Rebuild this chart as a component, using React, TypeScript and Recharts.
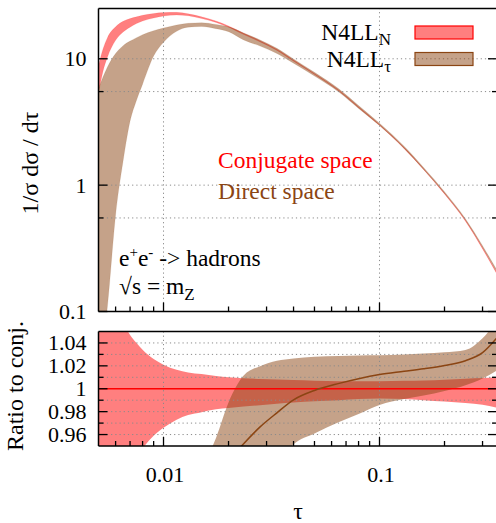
import React from 'react';
import { ComposedChart, Area, Line, XAxis, YAxis, ReferenceLine } from 'recharts';

const FONT = '"Liberation Serif", "DejaVu Serif", serif';
const RED = '#ff0000';
const BROWN = '#8b4513';

// tau grid shared by all curves
const tau = [
  0.005, 0.00525, 0.0055, 0.006, 0.0065, 0.007, 0.0075, 0.008, 0.009, 0.01,
  0.0115, 0.013, 0.015, 0.0175, 0.02, 0.0235, 0.028, 0.0335, 0.04, 0.05,
  0.065, 0.08, 0.1, 0.13, 0.16, 0.2, 0.25, 0.3, 0.35,
];

// upper panel: 1/sigma dsigma/dtau bands
const conjLo = [
  5.3, 8.0, 10.3, 14.0, 16.3, 17.8, 19.0, 19.9, 21.0, 21.8,
  22.2, 21.9, 20.8, 19.4, 17.8, 15.55, 13.6, 11.65, 9.58, 7.52,
  5.54, 4.1, 2.975, 1.95, 1.327, 0.85, 0.518, 0.313, 0.197,
];
const conjHi = [
  8.8, 12.0, 14.7, 17.9, 19.8, 20.8, 21.5, 22.1, 22.8, 23.2,
  23.3, 22.7, 21.5, 19.9, 18.2, 15.95, 13.92, 11.9, 9.77, 7.65,
  5.64, 4.17, 3.02, 1.985, 1.35, 0.867, 0.53, 0.321, 0.202,
];
const directLo = [
  0.03, 0.055, 0.11, 0.58, 1.55, 3.2, 4.7, 6.3, 10.5, 13.5,
  16.5, 17.8, 18.0, 17.3, 16.4, 14.1, 12.6, 11.0, 9.23, 7.3,
  5.44, 4.05, 2.96, 1.95, 1.33, 0.858, 0.527, 0.321, 0.203,
];
const directHi = [
  5.8, 7.2, 8.6, 11.0, 12.7, 13.8, 14.7, 15.5, 16.7, 17.5,
  18.5, 19.1, 19.3, 18.7, 17.9, 16.0, 14.1, 12.1, 9.96, 7.81,
  5.76, 4.26, 3.09, 2.03, 1.38, 0.887, 0.543, 0.332, 0.212,
];

// lower panel: ratio to conjugate-space central value
const ratioConjLo = [
  0.9, 0.905, 0.91, 0.92, 0.93, 0.935, 0.941, 0.948, 0.959, 0.966,
  0.973, 0.977, 0.9795, 0.982, 0.9832, 0.9845, 0.9856, 0.987, 0.988, 0.989,
  0.99, 0.991, 0.9915, 0.991, 0.99, 0.9888, 0.9875, 0.986, 0.9835,
];
const ratioConjHi = [
  1.1, 1.095, 1.088, 1.073, 1.058, 1.047, 1.04, 1.034, 1.026, 1.021,
  1.0165, 1.0142, 1.0128, 1.0112, 1.01, 1.0092, 1.0085, 1.008, 1.0076, 1.007,
  1.0066, 1.0065, 1.0066, 1.0069, 1.0073, 1.0079, 1.0088, 1.0094, 1.0101,
];
const ratioDirectLo = [
  null, null, null, null, null, null, null, null, null, null,
  null, null, 0.8, 0.84, 0.87, 0.895, 0.915, 0.933, 0.9515, 0.961,
  0.971, 0.978, 0.9858, 0.991, 0.994, 0.998, 1.003, 1.009, 1.016,
];
const ratioDirectHi = [
  null, null, null, null, null, null, null, null, null, null,
  null, null, 0.93, 0.957, 0.988, 1.0115, 1.0197, 1.0245, 1.0265, 1.028,
  1.0285, 1.029, 1.0292, 1.03, 1.0307, 1.0318, 1.0338, 1.044, 1.06,
];
const ratioDirectMid = [
  null, null, null, null, null, null, null, null, null, null,
  null, null, null, null, 0.937, 0.952, 0.9667, 0.979, 0.9903, 0.9985,
  1.0047, 1.0088, 1.0124, 1.0152, 1.0174, 1.0203, 1.0245, 1.0315, 1.0445,
];

const xTicks = [0.006, 0.007, 0.008, 0.009, 0.01, 0.02, 0.03, 0.04, 0.05, 0.06, 0.07, 0.08, 0.09, 0.1, 0.2, 0.3];
const xLabels = [0.01, 0.1];
const topYTicks = [0.1, 0.55, 1, 5.5, 10];
const topYLabels = [0.1, 1, 10];
const ratioTicks = [0.96, 0.97, 0.98, 0.99, 1, 1.01, 1.02, 1.03, 1.04];
const ratioLabels = [0.96, 0.98, 1, 1.02, 1.04];

const topData = tau.map((t, i) => ({
  tau: t,
  conj: [conjLo[i], conjHi[i]],
  direct: [directLo[i], directHi[i]],
}));

const ratioData = tau.map((t, i) => ({
  tau: t,
  conj: [ratioConjLo[i], ratioConjHi[i]],
  direct: ratioDirectLo[i] == null ? null : [ratioDirectLo[i], ratioDirectHi[i]],
  directMid: ratioDirectMid[i],
}));

const has = (list: number[], v: number) => list.some(l => Math.abs(l - v) < 1e-9);
const txt = (size: number) => ({ fontFamily: FONT, fontSize: size });

function YTick(props: any) {
  const { x, y, payload, labels, side } = props;
  const major = has(labels, payload.value);
  const len = major ? 9 : 5;
  const dir = side === 'left' ? 1 : -1;
  return (
    <g>
      <line x1={x} x2={x + dir * len} y1={y} y2={y} stroke="#000" strokeWidth={1.3} />
      {side === 'left' && major && (
        <text x={x - 12} y={y} dy={7.5} textAnchor="end" style={txt(22)} fill="#000">
          {String(payload.value)}
        </text>
      )}
    </g>
  );
}

function XTick(props: any) {
  const { x, y, payload, side, showLabel } = props;
  const major = has(xLabels, payload.value);
  const len = major ? 9 : 5;
  const dir = side === 'bottom' ? -1 : 1;
  return (
    <g>
      <line x1={x} x2={x} y1={y} y2={y + dir * len} stroke="#000" strokeWidth={1.3} />
      {showLabel && major && (
        <text x={x + 1.5} y={y + 36} textAnchor="middle" style={txt(22)} fill="#000">
          {String(payload.value)}
        </text>
      )}
    </g>
  );
}

const gridStyle = { stroke: '#8a8a8a', strokeWidth: 1, strokeDasharray: '1.2 3' };
const frame = { stroke: '#000', strokeWidth: 1.5 };

function Axes({ yTicks, yLabels, yDomain, yScale, showX }: any) {
  return [
    <XAxis key="xb" xAxisId="b" dataKey="tau" type="number" scale="log" domain={[0.005, 0.35]}
      allowDataOverflow ticks={xTicks} interval={0} height={1} tickSize={0} tickMargin={0}
      axisLine={frame} tickLine={false}
      tick={(p: any) => <XTick {...p} side="bottom" showLabel={showX} />} />,
    <XAxis key="xt" xAxisId="t" orientation="top" type="number" scale="log" domain={[0.005, 0.35]}
      allowDataOverflow ticks={xTicks} interval={0} height={1} tickSize={0} tickMargin={0}
      axisLine={frame} tickLine={false}
      tick={(p: any) => <XTick {...p} side="top" showLabel={false} />} />,
    <YAxis key="yl" yAxisId="l" type="number" scale={yScale} domain={yDomain} allowDataOverflow
      ticks={yTicks} interval={0} width={90} tickSize={0} tickMargin={0}
      axisLine={frame} tickLine={false}
      tick={(p: any) => <YTick {...p} side="left" labels={yLabels} />} />,
    <YAxis key="yr" yAxisId="r" orientation="right" type="number" scale={yScale} domain={yDomain}
      allowDataOverflow ticks={yTicks} interval={0} width={1} tickSize={0} tickMargin={0}
      axisLine={frame} tickLine={false}
      tick={(p: any) => <YTick {...p} side="right" labels={yLabels} />} />,
  ];
}

export default function App() {
  return (
    <div style={{ position: 'fixed', left: 0, top: 0, width: 496, height: 523, background: '#fff', overflow: 'hidden', fontFamily: FONT }}>
      <div style={{ position: 'absolute', left: 0, top: 0 }}>
        <ComposedChart width={500} height={332} data={topData}
          margin={{ top: 7.5, right: 2, bottom: 19.5, left: 8.5 }}>
          {Axes({ yTicks: topYTicks, yLabels: topYLabels, yDomain: [0.1, 25], yScale: 'log', showX: false })}
          {[0.55, 1, 5.5, 10].map(v => (
            <ReferenceLine key={'h' + v} xAxisId="b" yAxisId="l" y={v} {...gridStyle} />
          ))}
          {xLabels.map(v => (
            <ReferenceLine key={'v' + v} xAxisId="b" yAxisId="l" x={v} {...gridStyle} />
          ))}
          <Area xAxisId="b" yAxisId="l" type="monotone" dataKey="conj" fill={RED} fillOpacity={0.5}
            stroke={RED} strokeOpacity={0.2} strokeWidth={0.5} isAnimationActive={false} />
          <Area xAxisId="b" yAxisId="l" type="monotone" dataKey="direct" fill={BROWN} fillOpacity={0.5}
            stroke={BROWN} strokeOpacity={0.2} strokeWidth={0.5} isAnimationActive={false} />
        </ComposedChart>
      </div>
      <div style={{ position: 'absolute', left: 0, top: 320 }}>
        <ComposedChart width={500} height={203} data={ratioData}
          margin={{ top: 10.5, right: 2, bottom: 76, left: 8.5 }}>
          {Axes({ yTicks: ratioTicks, yLabels: ratioLabels, yDomain: [0.95, 1.05], yScale: 'linear', showX: true })}
          {ratioTicks.filter(v => v !== 1).map(v => (
            <ReferenceLine key={'h' + v} xAxisId="b" yAxisId="l" y={v} {...gridStyle} />
          ))}
          {xLabels.map(v => (
            <ReferenceLine key={'v' + v} xAxisId="b" yAxisId="l" x={v} {...gridStyle} />
          ))}
          <Area xAxisId="b" yAxisId="l" type="monotone" dataKey="conj" fill={RED} fillOpacity={0.5}
            stroke="none" isAnimationActive={false} />
          <Area xAxisId="b" yAxisId="l" type="monotone" dataKey="direct" fill={BROWN} fillOpacity={0.5}
            stroke="none" isAnimationActive={false} />
          <ReferenceLine xAxisId="b" yAxisId="l" y={1} stroke={RED} strokeWidth={1.5} />
          <Line xAxisId="b" yAxisId="l" type="monotone" dataKey="directMid" stroke={BROWN} strokeWidth={1.5}
            dot={false} isAnimationActive={false} />
        </ComposedChart>
      </div>
      <svg width={496} height={523} style={{ position: 'absolute', left: 0, top: 0, pointerEvents: 'none', fontFamily: FONT }}>
        <text transform="translate(38,163) rotate(-90)" textAnchor="middle" style={txt(24)}>1/σ dσ / dτ</text>
        <text transform="translate(23,386) rotate(-90)" textAnchor="middle" style={txt(24)}>Ratio to conj.</text>
        <text x={298} y={519} textAnchor="middle" style={txt(24)}>τ</text>

        <text x={391} y={39.5} textAnchor="end" style={txt(23.5)}>
          N4LL<tspan dy={5} style={txt(17)}>N</tspan>
        </text>
        <rect x={415} y={26} width={58} height={13} fill={RED} fillOpacity={0.5} stroke={RED} strokeWidth={1.2} />
        <text x={391} y={66.5} textAnchor="end" style={txt(23.5)}>
          N4LL<tspan dy={5} style={txt(17)}>τ</tspan>
        </text>
        <rect x={415} y={52.5} width={58} height={13} fill={BROWN} fillOpacity={0.5} stroke={BROWN} strokeWidth={1.2} />

        <text x={218} y={168} style={txt(23.5)} fill={RED}>Conjugate space</text>
        <text x={218} y={199} style={txt(23.5)} fill={BROWN}>Direct space</text>

        <text x={119} y={266} style={txt(23.5)}>
          e<tspan dy={-9} style={txt(15)}>+</tspan><tspan dy={9}>e</tspan><tspan dy={-9} style={txt(15)}>-</tspan>
          <tspan dy={9}> -&gt; hadrons</tspan>
        </text>
        <text x={119} y={294} style={txt(23.5)}>
          √s = m<tspan dy={6} style={txt(17)}>Z</tspan>
        </text>
      </svg>
    </div>
  );
}
